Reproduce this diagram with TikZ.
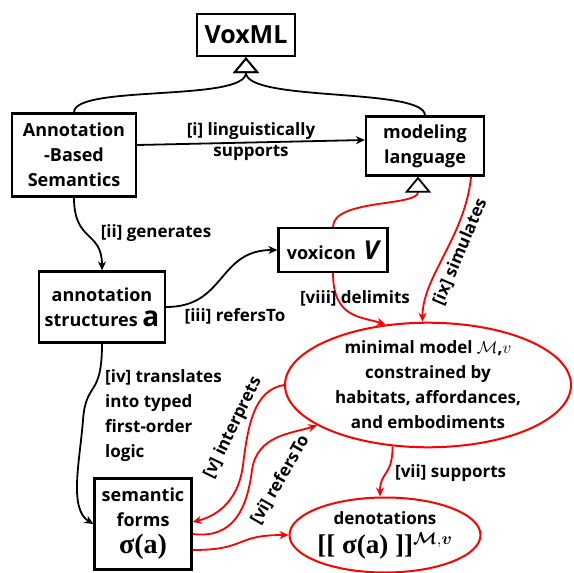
\documentclass[tikz,border=0pt]{standalone}
\usepackage{amsmath}
\usepackage{amssymb}
\usepackage{bm}
\usepackage{fontspec}
\setmainfont{Open Sans}
\newfontfamily\serifbf{Liberation Serif}
\usetikzlibrary{arrows.meta,positioning,shapes.geometric}

\begin{document}
\begin{tikzpicture}[x=1pt, y=-1pt,
    box/.style={draw, line width=2.2pt, align=center, inner sep=2pt, font=\fontsize{18}{25}\selectfont\bfseries},
    oval/.style={ellipse, draw=red, line width=2pt, align=center, inner sep=0pt, font=\fontsize{17}{25}\selectfont\bfseries},
    rel/.style={-{Stealth[length=9pt, width=8pt]}, line width=1.8pt},
    redrel/.style={rel, red},
    gen/.style={-{Triangle[open, length=16pt, width=26pt, color=black, line width=1.8pt]}, line width=1.8pt},
    lbl/.style={font=\fontsize{17}{25}\selectfont\bfseries, inner sep=2pt, text=black}
]
    \useasboundingbox (0,0) rectangle (574,573);

    % boxes
    \node[box, minimum width=98pt, minimum height=42pt, font=\fontsize{25}{28}\selectfont\bfseries] (vox) at (246,35) {VoxML};
    \node[box, minimum width=124pt, minimum height=83pt] (abs) at (74,155) {Annotation\\-Based\\Semantics};
    \node[box, minimum width=118pt, minimum height=59pt] (model) at (425,146) {modeling\\language};
    \node[box, minimum width=109pt, minimum height=44pt] (voxicon) at (333,250) {voxicon\, {\fontsize{26}{24}\selectfont\itshape V}};
    \node[box, minimum width=126pt, minimum height=71pt] (annot) at (102,307) {annotation\\structures {\fontsize{28}{24}\selectfont a}};
    \node[box, minimum width=97pt, minimum height=91pt] (sem) at (143,524) {semantic\\forms\\[2pt]{\serifbf\fontsize{28}{24}\selectfont\bfseries σ(a)}};

    % ellipses
    \node[oval, minimum width=286pt, minimum height=122pt] (mm) at (428,385) {minimal model $\mathcal{M}$,$v$\\constrained by\\habitats, affordances,\\and embodiments};
    \node[oval, minimum width=160pt, minimum height=75pt] (den) at (385,535) {denotations\\[4pt]{\serifbf\fontsize{27}{24}\selectfont\bfseries [[ σ(a) ]]$^{\bm{\mathcal{M}},\bm{v}}$}};

    % generalisation
    \draw[gen] (abs.north) .. controls +(0,-28) and +(0,45) .. (vox.south);
    \draw[gen] (model.north) .. controls +(0,-28) and +(0,45) .. (vox.south);
    \draw[gen, red] (voxicon.north) .. controls +(0,-28) and +(0,30) .. ([xshift=-7pt]model.south);

    % black relations
    \draw[rel] ([yshift=10pt]abs.east) -- ([yshift=6pt]model.west)
        node[lbl, midway, above] (lingu) {[i] linguistically}
        node[lbl, midway, below] (supp) {supports};
    \draw[rel] (abs.south) .. controls +(0,45) and +(0,-40) .. (annot.north)
        node[lbl, pos=0.45, right=12pt] (gener) {[ii] generates};
    \draw[rel] (annot.east) .. controls +(60,0) and +(-60,0) .. (voxicon.west);
    \node[lbl] (refers) at (235,316) {[iii] refersTo};
    \draw[rel] (annot.south) .. controls +(0,55) and +(3,-40) .. (83,420)
        .. controls +(-3,40) and +(-25,-15) .. (sem.west);
    \node[lbl, align=left, anchor=west] (transl) at (103,416) {[iv] translates\\into typed\\first-order\\logic};

    % red relations
    \draw[redrel] (voxicon.south) .. controls +(0,45) and +(-25,-8) .. (mm.125);
    \node[lbl] (delim) at (355,298) {[viii] delimits};
    \draw[redrel] ([xshift=-14pt]model.south east) .. controls +(-6,60) and +(0,-45) .. (mm.95);
    \node[lbl, rotate=67] (simul) at (460,252) {[ix] simulates};
    \draw[redrel] (mm.west) .. controls +(-30,5) and +(5,-40) .. (243,465)
        .. controls +(-5,40) and +(20,-5) .. ([yshift=2pt]sem.east);
    \node[lbl, rotate=64] (interp) at (233,428) {[v] interprets};
    \draw[redrel] ([yshift=-10pt]sem.east) .. controls +(40,5) and +(-5,40) .. (252,470)
        .. controls +(5,-35) and +(-25,8) .. (mm.200);
    \node[lbl, rotate=60] (refers2) at (280,480) {[vi] refersTo};
    \draw[redrel] (mm.240) .. controls +(0,30) and +(0,-25) .. ([xshift=-5pt]den.north)
        node[lbl, pos=0.5, right=6pt] (suppo) {[vii] supports};
    \draw[redrel] ([yshift=-26pt]sem.east) .. controls +(55,0) and +(-55,0) .. (den.west);
\end{tikzpicture}
\end{document}
